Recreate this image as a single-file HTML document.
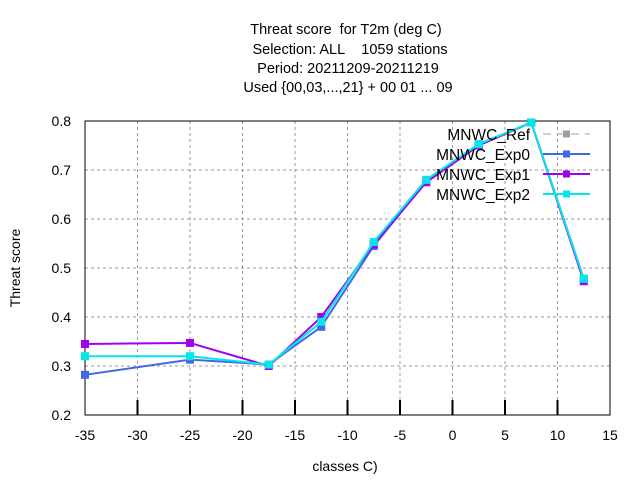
<!DOCTYPE html>
<html><head><meta charset="utf-8"><style>
body{margin:0;background:#fff}
svg{font-family:"Liberation Sans",sans-serif;font-size:14px}
</style></head><body>
<svg id="c" width="640" height="480" viewBox="0 0 640 480">
<rect width="640" height="480" fill="#fff"/>
<g text-anchor="middle" fill="#000" style="font-size:14.5px">
<text x="346" y="34">Threat score&#160;&#160;for T2m (deg C)</text>
<text x="350" y="54">Selection: ALL&#160;&#160;&#160;&#160;1059 stations</text>
<text x="348" y="73">Period: 20211209-20211219</text>
<text x="348" y="92">Used {00,03,...,21} + 00 01 ... 09</text>
</g>
<g id="grid"></g>
<g id="axes"></g>
<g id="series"></g>
<g id="legend" style="font-size:15.5px"></g>
<text x="20" y="268" transform="rotate(-90 20 268)" text-anchor="middle">Threat score</text>
<text x="345" y="471" text-anchor="middle">classes C)</text>
</svg>
<script>
const classes=[-35,-25,-17.5,-12.5,-7.5,-2.5,2.5,7.5,12.5];
const exp0=[0.282,0.313,0.303,0.380,0.545,0.677,0.752,0.797,0.478];
const exp1=[0.345,0.347,0.300,0.400,0.548,0.675,0.750,0.797,0.473];
const exp2=[0.320,0.320,0.303,0.390,0.553,0.680,0.753,0.797,0.478];
const xTicks=[-35,-30,-25,-20,-15,-10,-5,0,5,10,15];
const yTicks=[0.2,0.3,0.4,0.5,0.6,0.7,0.8];
const seriesNames=["MNWC_Ref","MNWC_Exp0","MNWC_Exp1","MNWC_Exp2"];
const NS="http://www.w3.org/2000/svg";
const L=85,R=610,T=121,B=415;
const xs=v=>L+(v+35)/50*(R-L);
const ys=v=>B-(v-0.2)/0.6*(B-T);
function mk(p,tag,a){const e=document.createElementNS(NS,tag);for(const k in a)e.setAttribute(k,a[k]);p.appendChild(e);return e;}
const grid=document.getElementById('grid'),axes=document.getElementById('axes');
xTicks.forEach(t=>{const x=xs(t);
 if(t>-35&&t<15){const g=mk(grid,'line',{x1:x,x2:x,y1:T,y2:B,stroke:'#999','stroke-dasharray':'3,3'});
 
 const k=mk(axes,'line',{x1:x,x2:x,y1:B,y2:B-15,stroke:'#000','stroke-width':2});
 }
 const tx=mk(axes,'text',{x:x,y:B+25,'text-anchor':'middle'});tx.textContent=t;
 
});
yTicks.forEach(t=>{const y=ys(t);
 if(t>0.2&&t<0.8){const g=mk(grid,'line',{x1:L,x2:R,y1:y,y2:y,stroke:'#999','stroke-dasharray':'3,3'});
 }
 const tx=mk(axes,'text',{x:L-14,y:y+5,'text-anchor':'end'});tx.textContent=t.toFixed(1);
 
});
const fr=mk(axes,'rect',{x:L,y:T,width:R-L,height:B-T,fill:'none',stroke:'#000','stroke-width':1});

const ser=document.getElementById('series'),leg=document.getElementById('legend');
const defs=[[exp0,'#4169e1'],[exp1,'#a000f0'],[exp2,'#00e8e8']];
defs.forEach(([d,c],i)=>{
 const pts=classes.map((x,j)=>xs(x)+','+ys(d[j])).join(' ');
 const pl=mk(ser,'polyline',{points:pts,fill:'none',stroke:c,'stroke-width':2});
 
 
 classes.forEach((x,j)=>{const r=mk(ser,'rect',{x:xs(x)-4,y:ys(d[j])-4,width:8,height:8,fill:c});
  });
});
const lc=['#a0a0a0','#4169e1','#a000f0','#00e8e8'];
seriesNames.forEach((n,i)=>{const y=134+i*20;
 const t=mk(leg,'text',{x:530,y:y+6,'text-anchor':'end'});t.textContent=n;
 
 const a={x1:543,x2:590,y1:y,y2:y,stroke:lc[i],'stroke-width':i?2:1};if(!i)a['stroke-dasharray']='8,6';
 const l=mk(leg,'line',a);
 const m=mk(leg,'rect',{x:563,y:y-3.5,width:7,height:7,fill:lc[i]});
 
});
</script>
</body></html>
